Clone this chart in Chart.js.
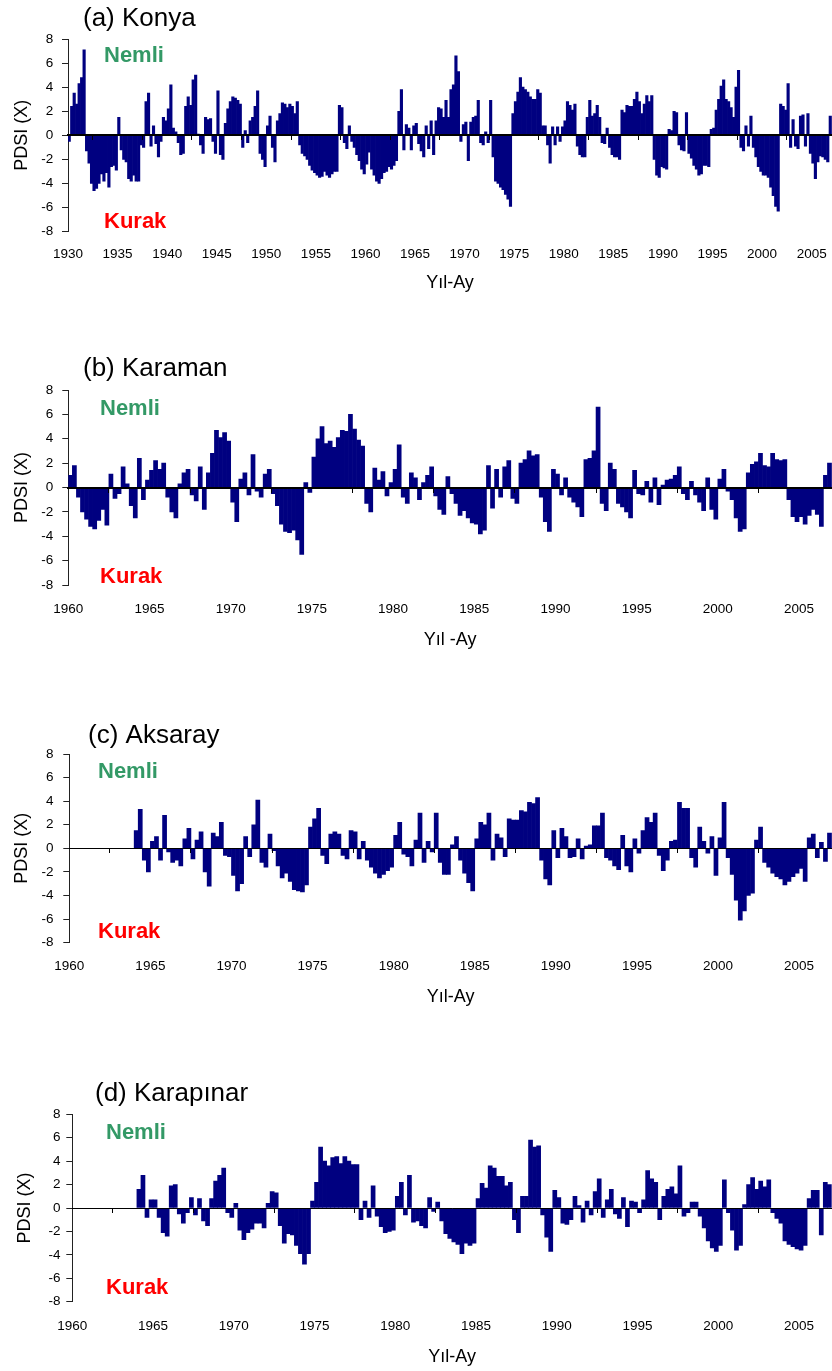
<!DOCTYPE html>
<html>
<head>
<meta charset="utf-8">
<script src="https://cdn.jsdelivr.net/npm/chart.js@4"></script>
<style>
  html, body { margin: 0; padding: 0; background: #fff; }
  #page { position: relative; width: 832px; height: 1371px; overflow: hidden; }
  canvas { position: absolute; left: 0; }
</style>
</head>
<body>
<div id="page">
  <canvas id="cA"></canvas>
  <canvas id="cB"></canvas>
  <canvas id="cC"></canvas>
  <canvas id="cD"></canvas>
</div>
<script>
// quarterly PDSI values, one row per year
const konyaStart = 1930;
const konyaPdsi = [
  -0.5, 2.4, 3.5, 2.6,   4.3, 4.8, 7.1, -1.3,   -2.3, -4.0, -4.6, -4.4,   -4.0, -3.2, -3.8, -3.1,
  -4.3, -2.6, -2.5, -2.9,   1.5, -1.2, -2.0, -2.2,   -3.6, -3.8, -3.3, -3.8,   -3.8, -0.8, -1.0, 2.8,
  3.5, -0.9, 0.8, -0.7,   -1.8, -0.5, 1.5, 1.2,   2.2, 4.2, 0.6, 0.3,   -0.6, -1.6, -1.5, 2.4,
  3.2, 2.5, 4.6, 5.0,   0.1, -0.8, -1.5, 1.5,   1.3, 1.4, -0.5, -1.5,   3.7, -1.6, -2.0, 1.0,
  2.2, 2.8, 3.2, 3.1,   2.9, 2.6, -1.0, 0.4,   -0.6, 1.2, 1.5, 2.4,   3.7, -1.5, -2.0, -2.6,
  0.8, 1.6, -1.0, -2.2,   1.2, 1.8, 2.7, 2.6,   2.3, 2.6, 2.4, 1.8,   2.8, -0.8, -1.5, -1.7,
  -2.0, -2.5, -2.9, -3.1,   -3.3, -3.5, -3.4, -3.0,   -3.3, -3.5, -3.2, -3.0,   -3.0, 2.5, 2.3, -0.6,
  -1.1, 0.8, -0.5, -1.0,   -1.6, -2.1, -2.8, -3.2,   -2.4, -1.4, -2.8, -3.3,   -3.8, -4.0, -3.6, -3.1,
  -3.0, -2.6, -2.8, -2.5,   -2.1, 2.0, 3.8, -1.2,   0.9, 0.6, -1.2, 0.8,   1.0, -0.7, -1.3, -1.8,
  0.8, -1.1, 1.2, -1.6,   1.2, 2.3, 2.2, 1.5,   2.9, 1.5, 3.8, 4.2,   6.6, 5.3, -0.5, 0.9,
  1.1, -2.1, 1.1, 1.5,   1.6, 2.9, -0.6, -0.8,   0.3, -0.6, 2.9, -1.8,   -3.8, -4.0, -4.3, -4.5,
  -4.9, -5.3, -5.9, 1.8,   2.8, 3.6, 4.8, 4.0,   3.8, 3.6, 3.2, 3.0,   3.0, 3.8, 3.5, 0.8,
  0.8, -0.8, -2.3, 0.7,   -0.8, 0.7, -0.5, 0.7,   1.2, 2.8, 2.5, 2.1,   2.6, -0.9, -1.6, -1.8,
  -1.8, 1.5, 2.9, 1.6,   1.8, 2.5, 1.5, -0.6,   -0.7, 0.6, -1.0, -1.6,   -1.8, -1.8, -2.0, 2.1,
  1.9, 2.5, 2.4, 2.4,   3.0, 3.6, 2.8, 1.8,   2.6, 3.3, 2.8, 3.3,   -2.0, -3.3, -3.5, -2.6,
  -2.7, -2.8, 0.5, 0.4,   2.0, 1.9, -0.8, -1.2,   -1.3, 1.9, -1.5, -1.9,   -2.5, -2.8, -3.3, -3.2,
  -2.5, -2.5, -2.6, 0.5,   0.6, 2.1, 3.0, 4.1,   4.6, 3.0, 2.8, 2.3,   1.5, 4.0, 5.4, -1.0,
  -1.3, 0.8, -0.9, 1.6,   -1.0, -1.8, -2.6, -3.0,   -3.3, -3.3, -3.5, -4.3,   -5.0, -5.9, -6.3, 2.6,
  2.4, 2.1, 4.3, -1.0,   1.3, -0.9, -1.1, 1.6,   1.7, -0.9, 1.8, -1.5,   -2.3, -3.6, -2.2, -1.7,
  -1.8, -2.0, -2.2, 1.6
];

const karamanStart = 1960;
const karamanPdsi = [
  1.0, 1.8, -0.8, -2.0,   -2.6, -3.2, -3.4, -2.7,   -1.8, -3.1, 1.1, -0.9,   -0.5, 1.7, 0.3, -1.5,
  -2.5, 2.4, -1.0, 0.6,   1.4, 2.2, 1.5, 2.0,   -0.8, -2.0, -2.5, 0.3,   1.2, 1.5, -0.6, -1.1,
  1.7, -1.8, 1.2, 2.8,   4.7, 4.1, 4.5, 3.8,   -1.2, -2.8, 0.7, 1.2,   -0.6, 2.7, -0.3, -0.8,
  1.1, 1.5, -0.5, -1.5,   -3.0, -3.6, -3.7, -3.5,   -4.3, -5.5, 0.4, -0.4,   2.5, 4.0, 5.0, 3.6,
  3.8, 3.3, 4.1, 4.7,   4.6, 6.0, 4.8, 3.9,   3.4, -1.3, -2.0, 1.6,   0.6, 1.3, -0.7, 0.4,
  1.5, 3.5, -0.8, -1.3,   1.2, 0.8, -1.0, 0.4,   1.0, 1.7, -0.7, -1.8,   -2.2, 0.9, -0.5, -1.3,
  -2.3, -1.9, -2.5, -2.9,   -3.0, -3.8, -3.5, 1.8,   -1.7, 1.5, -0.8, 1.7,   2.2, -0.9, -1.3, 2.0,
  2.3, 3.0, 2.6, 2.7,   -0.8, -2.8, -3.6, 1.5,   1.1, -0.6, 0.8, -0.8,   -1.2, -1.6, -2.4, 2.3,
  2.4, 3.0, 6.6, -1.3,   -1.9, 2.0, 1.5, -1.3,   -1.6, -2.0, -2.5, 1.4,   -0.5, -0.6, 0.5, -1.2,
  0.8, -1.4, 0.2, 0.6,   0.7, 1.0, 1.7, -0.5,   -1.0, 0.5, -0.6, -1.2,   -1.9, 0.8, -1.8, -2.6,
  0.7, 1.5, -0.3, -1.0,   -2.5, -3.6, -3.4, 1.2,   1.9, 2.1, 2.8, 1.8,   1.7, 2.8, 2.3, 2.2,
  2.3, -1.0, -2.4, -2.8,   -2.4, -3.0, -2.3, -1.8,   -2.2, -3.2, 1.0, 2.0
];

const aksarayStart = 1964;
const aksarayPdsi = [
  1.5, 3.3, -1.0, -2.0,   0.6, 1.0, -1.0, 2.8,   -0.3, -1.2, -1.0, -1.5,   0.8, 1.7, -0.9, 0.7,
  1.4, -2.0, -3.2, 1.3,   1.0, 2.2, -0.6, -0.7,   -2.3, -3.6, -3.0, 1.0,   -0.7, 2.0, 4.1, -1.2,
  -1.6, 1.2, -0.2, -1.5,   -2.5, -2.1, -2.8, -3.5,   -3.6, -3.7, -3.1, 1.8,   2.5, 3.4, -0.6, -1.3,
  1.2, 1.4, 1.2, -0.6,   -0.9, 1.5, 1.4, -0.9,   0.6, -1.0, -1.6, -2.1,   -2.5, -2.2, -1.9, -1.6,
  1.1, 2.2, -0.5, -0.7,   -1.5, 0.7, 3.0, -1.2,   0.6, -0.3, 3.0, -1.2,   -2.2, -2.2, 0.3, 1.0,
  -1.0, -2.1, -2.9, -3.6,   0.8, 2.2, 2.0, 3.0,   -1.0, 1.2, 0.9, -0.7,   2.5, 2.4, 2.4, 3.2,
  3.1, 3.9, 3.8, 4.3,   -1.0, -2.6, -3.1, 1.5,   -0.8, 1.7, 1.0, -0.8,   -0.7, 0.8, -0.9, 0.2,
  0.3, 1.9, 1.9, 3.0,   -0.8, -1.0, -1.5, -1.8,   1.1, -1.5, -2.0, 0.8,   -0.4, 1.5, 2.6, 2.2,
  3.0, -0.6, -1.9, -1.0,   0.6, 0.7, 3.9, 3.4,   3.4, -0.8, -1.6, 1.8,   0.6, -0.4, 1.0, -2.3,
  0.9, 3.9, -0.8, -2.2,   -4.4, -6.1, -5.3, -4.0,   -3.8, 0.7, 1.8, -1.2,   -1.6, -2.1, -2.4, -2.6,
  -3.1, -2.8, -2.4, -2.1,   -1.7, -2.8, 0.9, 1.2,   -0.8, 0.5, -1.1, 1.3
];

const karapinarStart = 1964;
const karapinarPdsi = [
  1.6, 2.8, -0.8, 0.7,   0.7, -0.8, -2.1, -2.4,   1.9, 2.0, -0.5, -1.3,   -0.4, 0.9, -0.6, 0.8,
  -1.1, -1.5, 0.8, 2.3,   2.8, 3.4, -0.4, -0.8,   0.4, -1.9, -2.7, -2.1,   -1.8, -1.3, -1.3, -1.7,
  0.4, 1.4, 1.3, -1.5,   -3.0, -2.2, -2.3, -3.2,   -3.9, -4.8, -3.9, 0.6,   2.2, 5.2, 4.0, 3.6,
  4.3, 4.4, 3.8, 4.4,   4.0, 3.7, 3.7, -1.0,   0.6, -0.8, 1.9, -0.7,   -1.6, -2.1, -2.0, -1.9,
  1.0, 2.2, -0.6, 2.8,   -1.2, -1.1, -1.5, -1.7,   0.9, -0.3, 0.5, -1.1,   -2.2, -2.6, -2.9, -3.1,
  -3.9, -3.0, -3.2, -3.0,   0.8, 2.1, 1.7, 3.6,   3.4, 2.7, 2.7, 1.9,   2.2, -1.0, -2.1, 1.0,
  1.0, 5.8, 5.2, 5.3,   -0.6, -2.5, -3.7, 1.5,   0.9, -1.3, -1.4, -1.0,   1.0, 0.2, -1.2, 0.6,
  -0.6, 1.4, 2.5, -0.8,   0.7, 1.6, -0.5, -0.9,   0.9, -1.6, 0.6, 0.5,   -0.4, 0.7, 3.2, 2.5,
  2.2, -1.0, 1.0, 1.6,   1.8, 1.2, 3.6, -0.7,   -0.4, 0.5, 0.5, -0.7,   -1.7, -2.8, -3.4, -3.7,
  -3.2, 2.4, -0.4, -1.9,   -3.6, -3.2, 0.3, 2.0,   2.6, 1.6, 2.3, 1.8,   2.4, -0.4, -0.9, -1.3,
  -2.8, -3.1, -3.3, -3.5,   -3.6, -3.2, 0.8, 1.5,   1.5, -2.3, 2.2, 2.0
];

const yTickMin = -8;
const yTickMax = 8;
const yTickStep = 2;
const xTickStep = 5;

Chart.defaults.font.family = '"Liberation Sans", Arial, sans-serif';
Chart.defaults.color = '#000';

const FONT = '"Liberation Sans", Arial, sans-serif';

const panelText = {
  id: 'panelText',
  afterDraw(chart, args, o) {
    const ctx = chart.ctx;
    ctx.save();
    ctx.textAlign = 'left';
    ctx.textBaseline = 'alphabetic';
    ctx.fillStyle = '#000';
    ctx.font = '26px ' + FONT;
    ctx.fillText(o.title, o.titleX, o.titleY);
    ctx.font = 'bold 22px ' + FONT;
    ctx.fillStyle = '#339966';
    ctx.fillText('Nemli', o.nemli[0], o.nemli[1]);
    ctx.fillStyle = '#ff0000';
    ctx.fillText('Kurak', o.kurak[0], o.kurak[1]);
    ctx.restore();
  }
};

function onFive(scale) {
  scale.ticks = scale.ticks.filter(t => Math.abs(t.value % xTickStep) < 1e-9);
}

function makePanel(p) {
  const canvas = document.getElementById(p.id);
  const top = Math.round(p.chartTop) - 39;
  const height = Math.ceil(p.xTitleY - top + 12);
  canvas.width = 832;
  canvas.height = height;
  canvas.style.top = top + 'px';

  const chartBottom = p.chartBottom - top;
  const xAxisHeight = height - chartBottom;
  const titleGap = height - 10.8 - (p.xTitleY - top);

  const points = p.values.map((v, i) => ({ x: p.start + (i + 0.5) / 4, y: v }));

  new Chart(canvas, {
    type: 'bar',
    data: {
      datasets: [{
        data: points,
        backgroundColor: '#000080',
        borderWidth: 0,
        barPercentage: 1,
        categoryPercentage: 1
      }]
    },
    options: {
      responsive: false,
      animation: false,
      devicePixelRatio: 1,
      layout: { padding: { top: p.chartTop - top, left: 0, right: 0, bottom: 0 } },
      plugins: {
        legend: { display: false },
        tooltip: { enabled: false },
        panelText: {
          title: p.title,
          titleX: p.titleX, titleY: p.titleY - top,
          nemli: [p.nemli[0], p.nemli[1] - top],
          kurak: [p.kurak[0], p.kurak[1] - top]
        }
      },
      scales: {
        x: {
          type: 'linear',
          min: p.xMin,
          max: p.xMax,
          offset: false,
          afterBuildTicks: onFive,
          afterFit: s => { s.height = xAxisHeight; s.paddingLeft = 0; s.paddingRight = 0; },
          grid: { display: false, drawTicks: false, offset: false },
          border: { display: false },
          ticks: {
            stepSize: xTickStep,
            includeBounds: false,
            autoSkip: false,
            maxRotation: 0,
            padding: p.tickY - p.chartBottom - 8.1,
            font: { size: 13.5 },
            callback: v => String(v)
          },
          title: {
            display: true,
            text: p.xTitle,
            font: { size: 18 },
            padding: { top: 0, bottom: titleGap }
          }
        },
        x2: {
          type: 'linear',
          axis: 'x',
          position: { y: 0 },
          min: p.xMin,
          max: p.xMax,
          offset: false,
          afterBuildTicks: onFive,
          afterFit: s => { s.paddingLeft = 0; s.paddingRight = 0; },
          ticks: { display: false, stepSize: xTickStep, includeBounds: false },
          grid: { drawOnChartArea: false, drawTicks: true, tickLength: 4, color: '#000', z: 1 },
          border: { display: true, color: '#000', width: p.zeroW, z: 1 }
        },
        y: {
          min: yTickMin,
          max: yTickMax,
          afterFit: s => { s.width = p.left; },
          grid: { drawOnChartArea: false, drawTicks: true, tickLength: 6, color: '#222' },
          border: { display: true, color: '#222', width: 1 },
          ticks: {
            stepSize: yTickStep,
            padding: p.left - 6 - p.yTickRight,
            font: { size: 13.5 }
          },
          title: {
            display: true,
            text: 'PDSI (X)',
            font: { size: 18 },
            padding: { top: p.yTitleX - 10.8, bottom: 0 }
          }
        }
      }
    },
    plugins: [panelText]
  });
}

makePanel({
  id: 'cA', title: '(a) Konya', xTitle: 'Yıl-Ay', start: konyaStart, values: konyaPdsi,
  xMin: 1930, xMax: 2007.05, chartTop: 39, chartBottom: 231.7, left: 68,
  yTickRight: 53.3, yTitleX: 21.7, titleX: 83, titleY: 26,
  nemli: [104, 61.7], kurak: [104, 227.7], tickY: 254, xTitleY: 283, zeroW: 2
});
makePanel({
  id: 'cB', title: '(b) Karaman', xTitle: 'Yıl -Ay', start: karamanStart, values: karamanPdsi,
  xMin: 1960, xMax: 2007.03, chartTop: 390, chartBottom: 585, left: 68.3,
  yTickRight: 53.3, yTitleX: 21.7, titleX: 83, titleY: 376,
  nemli: [100, 415], kurak: [100, 583.3], tickY: 609, xTitleY: 640, zeroW: 2
});
makePanel({
  id: 'cC', title: '(c) Aksaray', xTitle: 'Yıl-Ay', start: aksarayStart, values: aksarayPdsi,
  xMin: 1960, xMax: 2007.03, chartTop: 754, chartBottom: 942.7, left: 69.3,
  yTickRight: 53.5, yTitleX: 21.7, titleX: 88, titleY: 743.3,
  nemli: [98, 778.3], kurak: [98, 937.7], tickY: 966.7, xTitleY: 996.7, zeroW: 1
});
makePanel({
  id: 'cD', title: '(d) Karapınar', xTitle: 'Yıl-Ay', start: karapinarStart, values: karapinarPdsi,
  xMin: 1960, xMax: 2007.04, chartTop: 1114.3, chartBottom: 1301.7, left: 72.3,
  yTickRight: 60.5, yTitleX: 25, titleX: 95, titleY: 1101,
  nemli: [106, 1139.3], kurak: [106, 1294.3], tickY: 1326.7, xTitleY: 1356.7, zeroW: 1
});
</script>
</body>
</html>
